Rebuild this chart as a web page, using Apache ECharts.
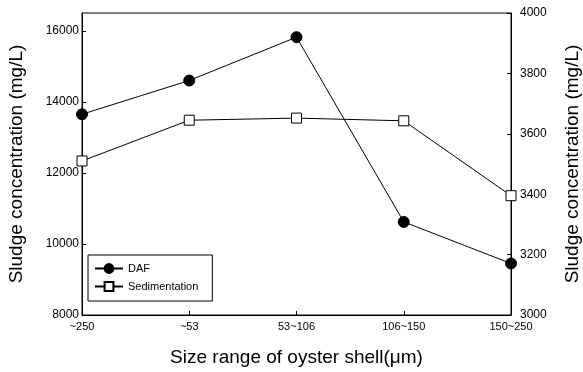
<!DOCTYPE html>
<html>
<head>
<meta charset="utf-8">
<script src="https://cdn.jsdelivr.net/npm/echarts@6/dist/echarts.min.js"></script>
<style>
  html, body { margin: 0; padding: 0; background: #fff; }
  #chart { width: 583px; height: 372px; }
</style>
</head>
<body>
<div id="chart"></div>
<script>
// 粒径范围
var sizeRanges = ['~250', '~53', '53~106', '106~150', '150~250']
// DAF (左轴, mg/L)
var dafValues = [13650, 14600, 15820, 10620, 9450]
// Sedimentation (右轴, mg/L)
var sedValues = [3510, 3645, 3652, 3643, 3395]

var font = 'Liberation Sans, Arial, sans-serif'
var plain = function (v) { return String(v) } // 不要千位分隔符
var myChart = echarts.init(document.getElementById('chart'))
var option = {
  animation: false,
  backgroundColor: '#fff',
  textStyle: { fontFamily: font, color: '#000' },
  grid: {
    left: 82,
    right: 72,
    top: 13,
    bottom: 57,
    outerBoundsMode: 'none',
    show: true,
    borderColor: '#000',
    borderWidth: 1
  },
  legend: {
    orient: 'vertical',
    left: 88,
    top: 255,
    padding: [8, 14, 9, 6],
    itemGap: 7,
    itemWidth: 28,
    itemHeight: 11,
    borderColor: '#000',
    borderWidth: 1,
    textStyle: { fontSize: 11, fontFamily: font, color: '#000' },
    data: ['DAF', 'Sedimentation']
  },
  xAxis: {
    type: 'category',
    data: sizeRanges,
    boundaryGap: false,
    name: 'Size range of oyster shell(\u03bcm)',
    nameLocation: 'middle',
    nameGap: 33,
    nameTextStyle: { fontSize: 19, fontFamily: font, color: '#000' },
    axisLine: { lineStyle: { color: '#000', width: 1 } },
    axisTick: { inside: true, length: 4, alignWithLabel: true, lineStyle: { color: '#000' } },
    axisLabel: { fontSize: 11, color: '#000', margin: 6 },
    splitLine: { show: false }
  },
  yAxis: [
    {
      type: 'value',
      min: 8000,
      max: 16500,
      interval: 2000,
      position: 'left',
      name: 'Sludge concentration (mg/L)',
      nameLocation: 'middle',
      nameGap: 56,
      nameTextStyle: { fontSize: 19, fontFamily: font, color: '#000' },
      axisLine: { show: true, lineStyle: { color: '#000', width: 1 } },
      axisTick: { show: true, inside: true, length: 4, lineStyle: { color: '#000' } },
      axisLabel: { fontSize: 12, color: '#000', margin: 3, showMaxLabel: false, formatter: plain },
      splitLine: { show: false }
    },
    {
      type: 'value',
      min: 3000,
      max: 4000,
      interval: 200,
      position: 'right',
      name: 'Sludge concentration (mg/L)',
      nameLocation: 'middle',
      nameRotate: 90,
      nameGap: 52,
      nameTextStyle: { fontSize: 19, fontFamily: font, color: '#000' },
      axisLine: { show: true, lineStyle: { color: '#000', width: 1 } },
      axisTick: { show: true, inside: true, length: 4, lineStyle: { color: '#000' } },
      axisLabel: { fontSize: 12, color: '#000', margin: 9, formatter: plain },
      splitLine: { show: false }
    }
  ],
  series: [
    {
      name: 'DAF',
      type: 'line',
      yAxisIndex: 0,
      data: dafValues,
      symbol: 'circle',
      symbolSize: 11,
      lineStyle: { color: '#000', width: 1 },
      itemStyle: { color: '#000', borderColor: '#000', borderWidth: 1 }
    },
    {
      name: 'Sedimentation',
      type: 'line',
      yAxisIndex: 1,
      data: sedValues,
      symbol: 'rect',
      symbolSize: 10,
      lineStyle: { color: '#000', width: 1 },
      itemStyle: { color: '#fff', borderColor: '#000', borderWidth: 1 }
    }
  ]
}
myChart.setOption(option)
</script>
</body>
</html>
